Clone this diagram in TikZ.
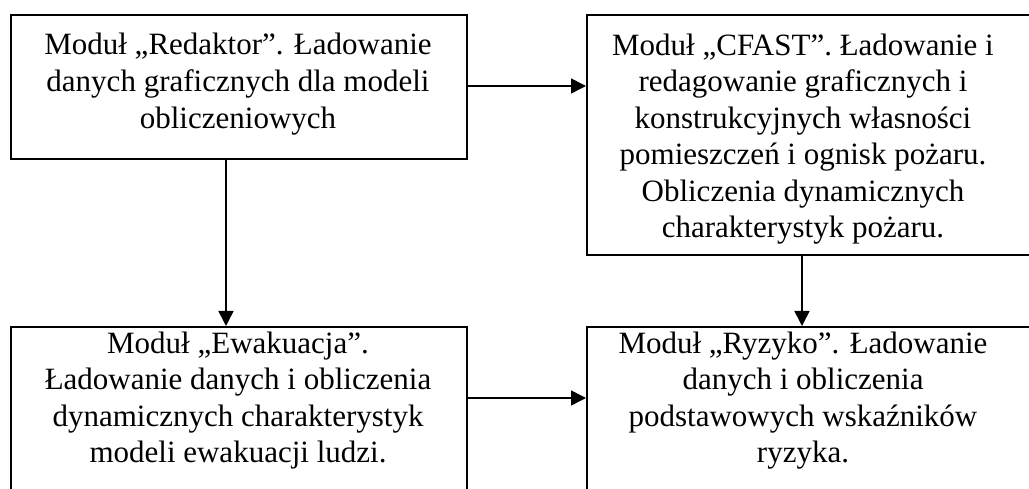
\documentclass[tikz,border=0pt]{standalone}
\usepackage{fontspec}
\setmainfont{Liberation Serif}
\usetikzlibrary{arrows.meta}
\begin{document}
\begin{tikzpicture}[x=1pt,y=-1pt,
  box/.style={draw=black, line width=1.6pt, rectangle, inner sep=0pt, anchor=north west},
  txt/.style={align=center, inner sep=0pt, anchor=base, font=\fontsize{31}{36.6}\selectfont},
  arr/.style={line width=1.6pt, -{Triangle[length=15pt,width=15pt]}, shorten >=0pt}]
\useasboundingbox (0,0) rectangle (1029,489);
\node[box, minimum width=456pt, minimum height=144pt] (b1) at (10,14) {};
\node[box, minimum width=450pt, minimum height=240pt] (b2) at (586,14) {};
\node[box, minimum width=456pt, minimum height=190pt] (b3) at (10,326) {};
\node[box, minimum width=450pt, minimum height=190pt] (b4) at (586,326) {};
\node[txt] (t1) at (238,128.2) {Moduł „Redaktor”. Ładowanie\\danych graficznych dla modeli\\obliczeniowych};
\node[txt] (t2) at (803,238) {Moduł „CFAST”. Ładowanie i\\redagowanie graficznych i\\konstrukcyjnych własności\\pomieszczeń i ognisk pożaru.\\Obliczenia dynamicznych\\charakterystyk pożaru.};
\node[txt] (t3) at (238,462.8) {Moduł „Ewakuacja”.\\Ładowanie danych i obliczenia\\dynamicznych charakterystyk\\modeli ewakuacji ludzi.};
\node[txt] (t4) at (803,462.8) {Moduł „Ryzyko”. Ładowanie\\danych i obliczenia\\podstawowych wskaźników\\ryzyka.};
\coordinate (h1) at (0,86);
\coordinate (h2) at (0,398);
\coordinate (v1) at (226,0);
\coordinate (v2) at (802,0);
\draw[arr] (h1 -| b1.east) -- (h1 -| b2.west);
\draw[arr] (h2 -| b3.east) -- (h2 -| b4.west);
\draw[arr] (v1 |- b1.south) -- (v1 |- b3.north);
\draw[arr] (v2 |- b2.south) -- (v2 |- b4.north);
\end{tikzpicture}
\end{document}
